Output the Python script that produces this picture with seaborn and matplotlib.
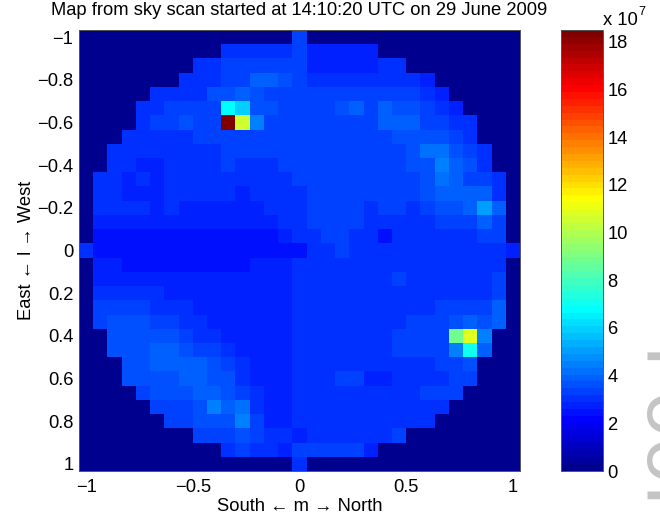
import numpy as np
import pandas as pd
import matplotlib
matplotlib.use("Agg")
import matplotlib.pyplot as plt
from matplotlib.colors import ListedColormap
import seaborn as sns

# sky map values in units of 1e7, one list per row, top (l = -1) to bottom (l = 1)
row_00 = [0]*15 + [3.2] + [0]*15
row_01 = [0]*10 + [3.1]*5 + [3.2] + [2.8]*5 + [0]*10
row_02 = [0]*8 + [3.1, 2.9] + [3.2]*5 + [3.2] + [2.8]*5 + [2.9]*2 + [0]*8
row_03 = [0]*7 + [3.0, 3.1, 3.1, 3.4, 3.4, 3.9, 3.9, 3.5, 3.3] + [3.0]*8 + [2.8] + [0]*6
row_04 = [0]*5 + [3.0, 3.0, 3.0, 3.1, 3.5, 3.7, 3.9, 3.5, 3.4, 3.4] + [3.2]*9 + [3.0, 2.7] + [0]*5
row_05 = [0]*4 + [3.0, 3.0, 3.2, 3.2, 3.2, 3.4, 6.9, 5.8, 3.7, 3.5, 3.3, 3.3, 3.3, 3.3, 3.5, 3.9, 3.4, 3.8, 3.5, 3.5, 3.2, 3.0, 2.8] + [0]*4
row_06 = [0]*4 + [3.0, 3.4, 3.4, 3.7, 3.2, 3.2, 18.5, 10.6, 4.5, 3.3, 3.3, 3.3, 3.3, 3.3, 3.4, 3.4, 3.4, 3.8, 3.8, 3.8, 3.4, 3.2, 3.0, 2.9] + [0]*3
row_07 = [0]*3 + [3.1]*5 + [3.2]*7 + [3.3]*4 + [3.4]*3 + [3.7]*3 + [3.5, 3.3, 3.0] + [0]*3
row_08 = [0]*2 + [3.0]*8 + [3.2]*5 + [3.2]*4 + [3.4]*4 + [3.6, 4.1, 4.1, 3.6, 3.3, 3.0] + [0]*2
row_09 = [0]*2 + [3.0, 3.0, 2.8, 2.8, 3.0, 3.0, 3.0, 3.0, 3.3, 3.0, 3.0, 3.0, 3.2] + [3.2]*6 + [3.4, 3.4, 3.7, 3.7, 4.5, 3.9, 3.6, 3.0] + [0]*2
row_10 = [0] + [3.0, 3.0, 2.8, 3.1, 2.8] + [3.0]*8 + [3.1] + [3.2]*7 + [3.4, 3.4, 3.7, 4.1, 3.8, 3.4, 3.2, 2.9] + [0]
row_11 = [0] + [3.0, 3.0, 2.8, 2.8, 2.8] + [3.0]*5 + [2.8, 3.0, 3.0, 3.0, 3.1] + [3.2]*8 + [3.5, 3.9, 3.9, 3.9, 3.8, 3.0] + [0]
row_12 = [0] + [3.0]*4 + [2.8, 3.0] + [2.7]*6 + [2.9, 2.9, 2.9] + [3.3]*4 + [3.0, 3.2, 3.2, 3.0, 3.2, 3.5, 3.5, 3.9, 5.0, 4.0] + [0]
row_13 = [0] + [2.8]*13 + [2.9, 2.9] + [3.3]*4 + [3.0]*5 + [3.3, 3.3, 3.3, 3.8, 3.4] + [0]
row_14 = [0] + [2.5]*5 + [2.6, 2.4, 2.4, 2.4] + [2.6]*4 + [2.8, 2.9, 2.9, 3.2, 3.2, 3.0, 3.0, 2.6] + [2.9]*6 + [3.2, 3.2] + [0]
row_15 = [3.0] + [2.4]*9 + [2.6]*5 + [2.4, 3.0, 3.0, 3.3] + [3.0]*11 + [2.8]
row_16 = [0] + [2.8, 2.8] + [2.5]*9 + [2.7]*3 + [2.9] + [3.1]*14 + [0]
row_17 = [0] + [2.8]*14 + [2.9, 2.9] + [3.1]*5 + [3.4] + [3.0]*6 + [3.3] + [0]
row_18 = [0] + [3.1]*5 + [2.8]*9 + [2.9, 2.9] + [3.1]*12 + [3.3] + [0]
row_19 = [0] + [3.3]*4 + [3.1]*3 + [2.8]*7 + [2.9, 2.9] + [3.1]*8 + [3.3]*4 + [3.8] + [0]
row_20 = [0] + [3.3, 3.7, 3.7, 3.7, 3.3, 3.3, 3.1, 3.1] + [2.8]*6 + [2.9]*4 + [3.0]*4 + [3.2]*3 + [3.5, 3.8, 3.6, 3.9] + [0]
row_21 = [0]*2 + [3.7]*5 + [3.4, 3.1, 3.1] + [2.8]*5 + [2.9]*4 + [3.0]*3 + [3.2]*3 + [3.4, 8.8, 10.7, 4.5] + [0]*2
row_22 = [0]*2 + [3.7, 3.7, 3.7, 4.0, 4.0, 3.6, 3.3, 3.3, 3.1] + [2.8]*4 + [2.9]*3 + [3.1]*4 + [3.2]*4 + [4.6, 7.0, 4.0] + [0]*2
row_23 = [0]*3 + [3.7, 3.7, 4.0, 4.0, 4.0, 4.0, 3.6, 3.3, 3.1] + [2.8]*3 + [2.9]*3 + [3.1]*7 + [3.4, 3.4, 3.7] + [0]*3
row_24 = [0]*3 + [3.7]*4 + [4.0, 4.0, 3.7, 3.7, 3.1] + [2.8]*3 + [2.9]*3 + [3.2, 3.2, 2.8, 2.8] + [3.0]*4 + [3.2, 3.2] + [0]*3
row_25 = [0]*4 + [3.3, 3.6, 3.6, 3.7, 3.9, 3.9, 3.6, 3.3, 3.0, 2.8, 2.8] + [2.9]*7 + [3.1, 3.1, 3.3, 3.3, 3.3] + [0]*4
row_26 = [0]*5 + [3.3, 3.3, 3.3, 3.6, 4.4, 3.9, 4.3, 3.0, 2.8, 2.8, 2.9, 2.9, 3.1] + [2.9]*4 + [3.1]*4 + [0]*5
row_27 = [0]*6 + [3.3, 3.3, 3.6, 3.6, 3.6, 4.4, 3.2, 2.8, 2.8] + [2.9]*7 + [3.1]*3 + [0]*6
row_28 = [0]*8 + [3.3, 3.3, 3.3, 3.6, 3.3, 3.1, 3.1, 2.8, 3.1] + [2.9]*5 + [3.2] + [0]*8
row_29 = [0]*10 + [3.1, 3.4, 3.1, 3.1, 2.8] + [3.2]*5 + [2.8] + [0]*10
row_30 = [0]*15 + [3.0] + [0]*15

x_ticks = [-1, -0.5, 0, 0.5, 1]
x_labels = ["\u22121", "\u22120.5", "0", "0.5", "1"]
y_ticks = [-1, -0.8, -0.6, -0.4, -0.2, 0, 0.2, 0.4, 0.6, 0.8, 1]
y_labels = ["\u22121", "\u22120.8", "\u22120.6", "\u22120.4", "\u22120.2", "0", "0.2", "0.4", "0.6", "0.8", "1"]
cbar_ticks = [0, 2, 4, 6, 8, 10, 12, 14, 16, 18]

rows = [row_00, row_01, row_02, row_03, row_04, row_05, row_06, row_07, row_08, row_09,
        row_10, row_11, row_12, row_13, row_14, row_15, row_16, row_17, row_18, row_19,
        row_20, row_21, row_22, row_23, row_24, row_25, row_26, row_27, row_28, row_29, row_30]
df = pd.DataFrame(np.array(rows, dtype=float))


def matlab_jet():
    # the 64 level jet of MATLAB, a bit different from the one in matplotlib
    ramp = np.concatenate([np.arange(1, 17) / 16, np.ones(15), np.arange(16, 0, -1) / 16])
    rgb = np.zeros((64, 3))
    for channel, start in enumerate([24, 8, -8]):
        for k, level in enumerate(ramp):
            if 0 <= start + k < 64:
                rgb[start + k, channel] = level
    return ListedColormap(rgb)


sns.set_theme(style="white")
plt.rcParams["font.family"] = ["Liberation Sans", "DejaVu Sans"]

W, H = 660, 520
fs = 13.2
fig = plt.figure(figsize=(W / 100, H / 100), dpi=100)
ax = fig.add_axes([79 / W, 1 - 471 / H, 441 / W, 441 / H])
cax = fig.add_axes([561 / W, 1 - 471 / H, 42 / W, 441 / H])

sns.heatmap(df, ax=ax, cbar_ax=cax, cmap=matlab_jet(), vmin=0, vmax=18.5,
            xticklabels=False, yticklabels=False,
            cbar_kws={"ticks": cbar_ticks})


def to_cell(v):
    # map l/m direction cosine to heatmap cell coordinate, cell centres are 1/15 apart
    return (v + 1) * 15 + 0.5


ax.set_xticks([to_cell(v) for v in x_ticks])
ax.set_xticklabels(x_labels)
ax.set_yticks([to_cell(v) for v in y_ticks])
ax.set_yticklabels(y_labels, rotation=0)
ax.tick_params(direction="in", length=3.2, width=0.6, color="black", top=True, right=True,
               bottom=True, left=True, labelsize=fs, labelcolor="black", pad=4)
ax.tick_params(axis="x", pad=5.5)
for spine in ax.spines.values():
    spine.set_visible(True)
    spine.set_color("#555555")
    spine.set_linewidth(0.7)

ax.set_xlabel("South \u2190 m \u2192 North", fontsize=fs, color="black", labelpad=1.5)
ax.set_ylabel("East \u2190 l \u2192 West", fontsize=fs, color="black", labelpad=1.5)
ax.set_title("Map from sky scan started at 14:10:20 UTC on 29 June 2009",
             fontsize=fs, color="black", pad=11)

cax.tick_params(direction="in", length=3.2, width=0.6, color="black", left=True, right=True,
                labelsize=fs, labelcolor="black", pad=3)
cbar = ax.collections[0].colorbar
cbar.outline.set_visible(True)
cbar.outline.set_edgecolor("#555555")
cbar.outline.set_linewidth(0.7)

fig.text(603 / W, 1 - 25 / H, "x 10", fontsize=fs, color="black")
fig.text(638 / W, 1 - 15 / H, "7", fontsize=9, color="black")

# stamp running up the right edge, cut off by the page
fig.text(645 / W, 1 - 506 / H, "I00 I", rotation=90, fontsize=60, color="#c4c4c4",
         ha="left", va="bottom")

fig.savefig("out.png", dpi=100)
